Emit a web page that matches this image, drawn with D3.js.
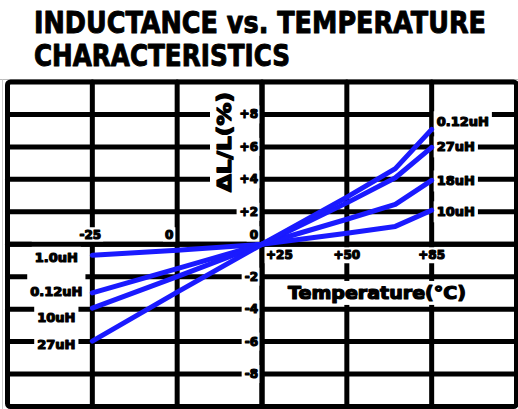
<!DOCTYPE html>
<html><head><meta charset="utf-8">
<script src="https://cdn.jsdelivr.net/npm/d3@7"></script>
<style>html,body{margin:0;padding:0;background:#fff;}svg{display:block;}</style>
</head><body>
<script>
// ---- data ----
const temps = [-25, 0, 25, 50, 70, 85];
const lineA = [-0.68, -0.37, 0, 0.68, 1.1, 2.1];
const lineB = [-3.0, -1.5, 0, 1.54, 2.46, 3.94];
const lineC = [-3.94, -2.0, 0, 2.55, 4.1, 5.97];
const lineD = [-5.97, -2.95, 0, 2.9, 4.66, 7.08];
const xTickValues = [-25, 0, 25, 50, 85];
const xTickLabels = ["-25", "0", "+25", "+50", "+85"];
const yTickValues = [8, 6, 4, 2, 0, -2, -4, -6, -8];
const yTickLabels = ["+8", "+6", "+4", "+2", "0", "-2", "-4", "-6", "-8"];
const leftLabels = ["1.0uH", "0.12uH", "10uH", "27uH"];
const leftLabelValues = [-0.8, -2.9, -4.5, -6.2];
const rightLabels = ["10uH", "18uH", "27uH", "0.12uH"];
const rightLabelValues = [2.0, 3.9, 6.0, 7.55];

(function () {
const W = 518, H = 409;
const svg = d3.select("body").append("svg").attr("width", W).attr("height", H);

const pL = 7.5, pR = 516.5, pT = 82, pB = 406.5;
const xDom = [-50, -25, 0, 25, 50, 85, 120];
const x = d3.scaleLinear().domain(xDom)
  .range(xDom.map((d, i) => pL + i * (pR - pL) / 6));
const y = d3.scaleLinear().domain([-10, 10]).range([pB, pT]);

const FONT = "'DejaVu Sans', sans-serif";

// thin grey guide lines
svg.append("line").attr("x1", 0).attr("x2", W).attr("y1", 79.5).attr("y2", 79.5)
  .attr("stroke", "#bbb").attr("stroke-width", 1);
svg.append("line").attr("x1", 2.5).attr("x2", 2.5).attr("y1", 79.5).attr("y2", H)
  .attr("stroke", "#ccc").attr("stroke-width", 1);

// title
const title = svg.append("g").attr("font-family", FONT).attr("font-weight", "bold")
  .attr("font-size", 30).attr("fill", "#000").attr("stroke", "#000").attr("stroke-width", 1)
  .attr("stroke-linejoin", "round");
title.append("text").attr("x", 34).attr("y", 33).attr("textLength", 452)
  .attr("lengthAdjust", "spacingAndGlyphs").text("INDUCTANCE vs. TEMPERATURE");
title.append("text").attr("x", 34).attr("y", 66).attr("textLength", 256)
  .attr("lengthAdjust", "spacingAndGlyphs").text("CHARACTERISTICS");

const grid = svg.append("g").attr("stroke", "#000").attr("stroke-width", 5)
  .attr("stroke-linecap", "round");
grid.selectAll("line.h").data(yTickValues).join("line").attr("class", "h")
  .attr("x1", pL).attr("x2", pR).attr("y1", d => y(d)).attr("y2", d => y(d));
grid.selectAll("line.v").data(xTickValues).join("line").attr("class", "v")
  .attr("y1", pT).attr("y2", pB).attr("x1", d => x(d)).attr("x2", d => x(d));
svg.append("rect").attr("x", pL).attr("y", pT).attr("width", pR - pL)
  .attr("height", pB - pT).attr("rx", 3).attr("fill", "none")
  .attr("stroke", "#000").attr("stroke-width", 5);

function boxedText(g, tx, ty, str, opts) {
  const grp = g.append("g");
  const t = grp.append("text").attr("x", tx).attr("y", ty)
    .attr("text-anchor", opts.anchor || "middle").attr("dominant-baseline", "central")
    .attr("font-family", FONT).attr("font-weight", "bold")
    .attr("font-size", opts.size || 12).attr("fill", "#000")
    .attr("stroke", "#000").attr("stroke-width", opts.sw == null ? 1.2 : opts.sw)
    .attr("stroke-linejoin", "round").text(str);
  if (opts.len) t.attr("textLength", opts.len).attr("lengthAdjust", "spacingAndGlyphs");
  const b = t.node().getBBox();
  const p = opts.pad || [3, 3, 3, 3];
  let rx = b.x - p[3], ry = b.y - p[0], rw = b.width + p[1] + p[3], rh = b.height + p[0] + p[2];
  if (opts.rotate) {
    t.attr("transform", `rotate(${opts.rotate},${tx},${ty})`);
    const cx = b.x + b.width / 2, cy = b.y + b.height / 2;
    const ncx = tx + (cy - ty), ncy = ty - (cx - tx);
    rw = b.height + p[1] + p[3]; rh = b.width + p[0] + p[2];
    rx = ncx - rw / 2; ry = ncy - rh / 2;
  }
  grp.insert("rect", "text").attr("x", rx).attr("y", ry).attr("width", rw).attr("height", rh)
    .attr("fill", "#fff");
  return grp;
}

const labels = svg.append("g");
yTickValues.forEach((v, i) => {
  const ty = v === 0 ? y(v) - 9 : y(v);
  boxedText(labels, x(25) - 4, ty, yTickLabels[i], {anchor: "end", size: 12, pad: [2, 2, 2, 3]});
});
xTickValues.forEach((v, i) => {
  let tx = x(v), ty = y(0) + 11, anchor = "middle";
  if (v < 25) { ty = y(0) - 9; }
  if (v === 0) tx = x(v) - 8;
  if (v === -25) tx = x(v) - 2;
  if (v === 25) { tx = x(v) + 4; anchor = "start"; }
  boxedText(labels, tx, ty, xTickLabels[i], {anchor, size: 12, pad: [1, 2, 1, 2]});
});
boxedText(labels, x(25) - 38, y(6.3), "ΔL/L(%)", {size: 19, rotate: -90, len: 100, sw: 1.3, pad: [3, 3, 3, 3]});
boxedText(labels, x(25) + 26, y(-3), "Temperature(°C)", {anchor: "start", size: 17, len: 178, sw: 1.2, pad: [2, 2, 2, 2]});
leftLabels.forEach((s, i) => {
  boxedText(labels, x(-25) - 36, y(leftLabelValues[i]), s, {size: 13, pad: [10, 3, 3, 3]});
});
rightLabels.forEach((s, i) => {
  boxedText(labels, x(85) + 5, y(rightLabelValues[i]), s, {anchor: "start", size: 13, pad: [3, 3, 3, 3]});
});

svg.append("line").attr("x1", x(25)).attr("x2", x(25)).attr("y1", pT).attr("y2", pB)
  .attr("stroke", "#000").attr("stroke-width", 5);
svg.append("line").attr("x1", pL).attr("x2", pR).attr("y1", y(0)).attr("y2", y(0))
  .attr("stroke", "#000").attr("stroke-width", 5);

const line = d3.line().x((d, i) => x(temps[i])).y(d => y(d));
svg.append("g").selectAll("path").data([lineA, lineB, lineC, lineD]).join("path")
  .attr("d", line).attr("fill", "none").attr("stroke", "#1a1aff")
  .attr("stroke-width", 5).attr("stroke-linecap", "round").attr("stroke-linejoin", "round");
})();
</script>
</body></html>
